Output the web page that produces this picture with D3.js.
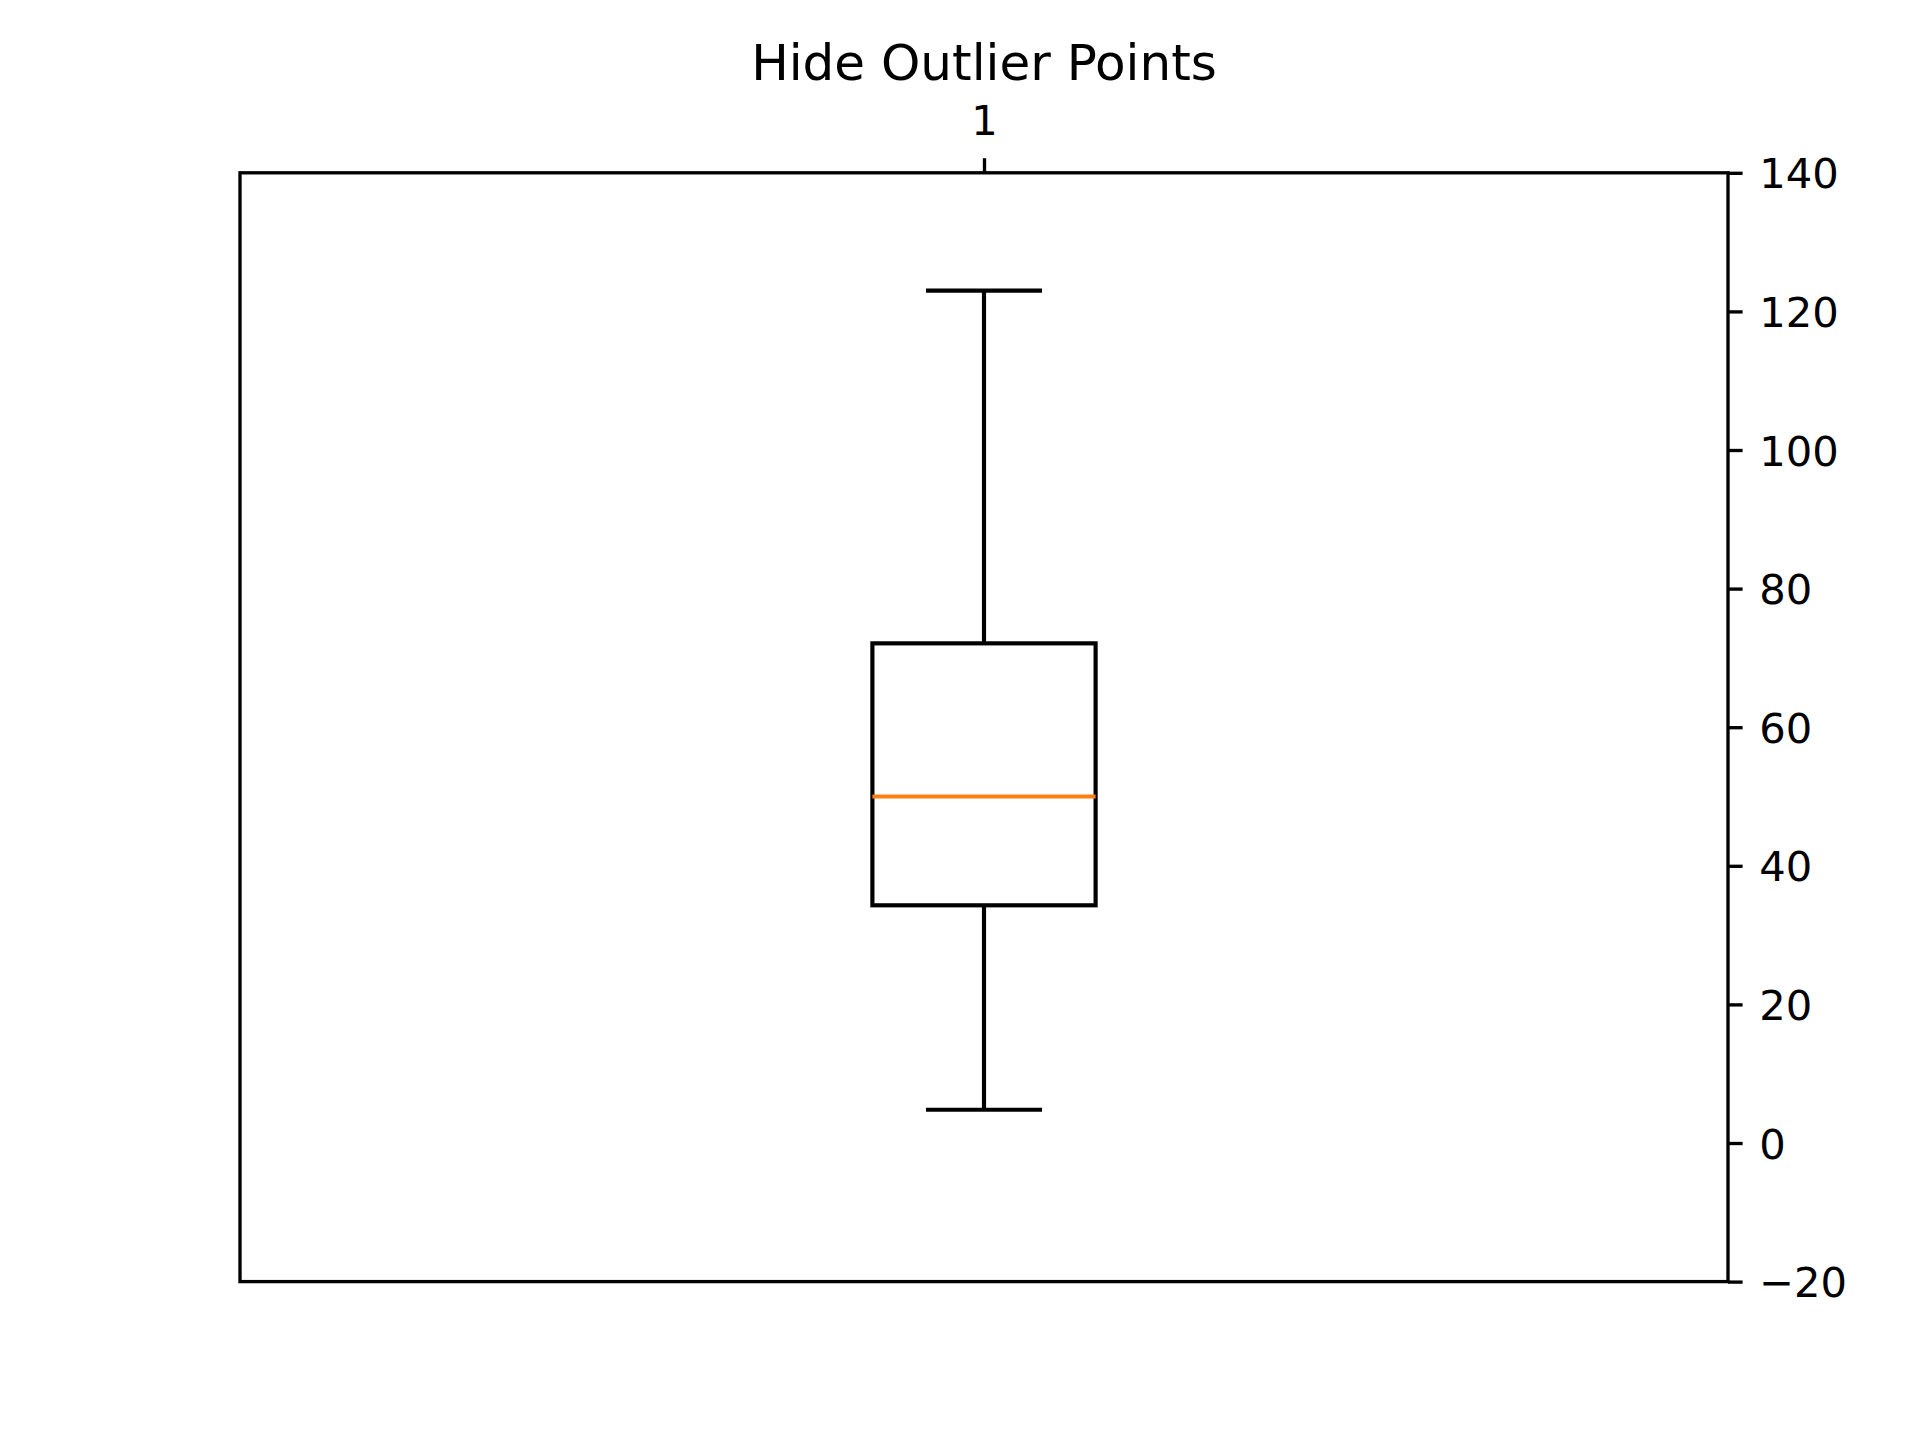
<!DOCTYPE html>
<html>
<head>
<meta charset="utf-8">
<script src="https://cdn.jsdelivr.net/npm/d3@7"></script>
<style>
html, body { margin: 0; padding: 0; background: #fff; }
svg { display: block; }
</style>
</head>
<body>
<script>
// Data
const categories = [1];
const whiskerLow = [4.8];
const q1 = [34.3];
const median = [50];
const q3 = [72.1];
const whiskerHigh = [123];
const yTicks = [-20, 0, 20, 40, 60, 80, 100, 120, 140];
const chartTitle = "Hide Outlier Points";

(function () {
const W = 1920, H = 1440;
const pLeft = 240, pRight = 1728, pTop = 172.8, pBottom = 1281.6;
const font = "DejaVu Sans, sans-serif";
const lw = 300 / 72;          // 1pt at 300dpi
const spineW = 0.8 * 300 / 72;
const tickLen = 3.5 * 300 / 72;
const fontSize = 10 * 300 / 72;

const svg = d3.select("body").append("svg")
  .attr("width", W).attr("height", H);

const x = d3.scaleLinear().domain([0.5, 1.5]).range([pLeft, pRight]);
const y = d3.scaleLinear().domain([-20, 140]).range([pBottom, pTop]);

const boxes = categories.map((c, i) => ({
  c, lo: whiskerLow[i], q1: q1[i], med: median[i], q3: q3[i], hi: whiskerHigh[i]
}));
const boxW = 0.15, capW = 0.078;

const g = svg.append("g");
boxes.forEach(b => {
  g.append("line").attr("x1", x(b.c)).attr("x2", x(b.c))
    .attr("y1", y(b.q1)).attr("y2", y(b.lo))
    .attr("stroke", "#000").attr("stroke-width", lw);
  g.append("line").attr("x1", x(b.c)).attr("x2", x(b.c))
    .attr("y1", y(b.q3)).attr("y2", y(b.hi))
    .attr("stroke", "#000").attr("stroke-width", lw);
  [b.lo, b.hi].forEach(v => {
    g.append("line").attr("x1", x(b.c - capW / 2)).attr("x2", x(b.c + capW / 2))
      .attr("y1", y(v)).attr("y2", y(v))
      .attr("stroke", "#000").attr("stroke-width", lw);
  });
  g.append("rect")
    .attr("x", x(b.c - boxW / 2)).attr("y", y(b.q3))
    .attr("width", x(b.c + boxW / 2) - x(b.c - boxW / 2))
    .attr("height", y(b.q1) - y(b.q3))
    .attr("fill", "none").attr("stroke", "#000").attr("stroke-width", lw);
  g.append("line").attr("x1", x(b.c - boxW / 2)).attr("x2", x(b.c + boxW / 2))
    .attr("y1", y(b.med)).attr("y2", y(b.med))
    .attr("stroke", "#ff7f0e").attr("stroke-width", lw);
});

svg.append("rect").attr("x", pLeft).attr("y", pTop)
  .attr("width", pRight - pLeft).attr("height", pBottom - pTop)
  .attr("fill", "none").attr("stroke", "#000").attr("stroke-width", spineW);

const yAxis = svg.append("g").attr("transform", `translate(${pRight},0)`)
  .call(d3.axisRight(y).tickValues(yTicks).tickSize(tickLen).tickPadding(tickLen + 2)
    .tickFormat(d3.format("d")));
yAxis.select(".domain").remove();
yAxis.selectAll(".tick line").attr("stroke", "#000").attr("stroke-width", spineW);
yAxis.selectAll(".tick text").attr("font-family", font).attr("font-size", fontSize)
  .attr("fill", "#000").attr("dy", "0.36em");

const xAxis = svg.append("g").attr("transform", `translate(0,${pTop})`)
  .call(d3.axisTop(x).tickValues(categories).tickSize(tickLen).tickPadding(tickLen + 9)
    .tickFormat(d => String(d)));
xAxis.select(".domain").remove();
xAxis.selectAll(".tick line").attr("stroke", "#000").attr("stroke-width", spineW);
xAxis.selectAll(".tick text").attr("font-family", font).attr("font-size", fontSize)
  .attr("fill", "#000");

svg.append("text").attr("x", (pLeft + pRight) / 2).attr("y", 80)
  .attr("text-anchor", "middle").attr("font-family", font)
  .attr("font-size", 12 * 300 / 72).attr("fill", "#000").text(chartTitle);
})();
</script>
</body>
</html>
